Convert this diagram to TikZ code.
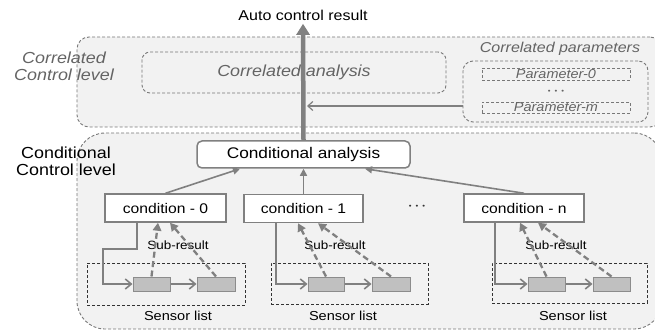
\documentclass[tikz,border=0pt]{standalone}
\usepackage{fontspec}
\setmainfont{Liberation Sans}[FakeStretch=1.12]
\usetikzlibrary{arrows.meta}
\definecolor{lnc}{RGB}{128,128,128}
\definecolor{regfill}{RGB}{242,242,242}
\definecolor{regline}{RGB}{120,120,120}
\definecolor{sbfill}{RGB}{192,192,192}
\definecolor{sbline}{RGB}{140,140,140}
\definecolor{itc}{RGB}{100,100,100}
\newcommand{\mydots}{\fontsize{7}{7}\selectfont\textbullet\hspace{4pt}\textbullet\hspace{4pt}\textbullet}
\begin{document}
\begin{tikzpicture}[x=1pt,y=-1pt,
  region/.style={draw=regline, fill=regfill, line width=0.9pt, dash pattern=on 3pt off 2pt},
  dbox/.style={draw=regline, line width=0.9pt, dash pattern=on 3pt off 2pt, inner sep=0pt},
  itext/.style={text=itc, font=\itshape},
  condbox/.style={draw=lnc, fill=white, line width=1.5pt, inner sep=0pt, font=\fontsize{14}{16}\selectfont, minimum height=28pt},
  listbox/.style={draw=black!80, line width=1pt, dash pattern=on 3pt off 2pt, inner sep=0pt},
  sbox/.style={draw=sbline, fill=sbfill, line width=1pt, inner sep=0pt, minimum height=14pt},
  uparrow/.style={draw=lnc, line width=1.6pt, -{Triangle[length=7pt,width=7pt]}},
  feed/.style={draw=lnc, line width=1.6pt, -{Straight Barb[length=6pt,width=10pt,line width=1.6pt]}},
  subarrow/.style={draw=lnc, line width=2.3pt, dash pattern=on 6pt off 3.5pt, -{Triangle[length=8pt,width=8.5pt]}},
  smalltext/.style={font=\fontsize{12}{14}\selectfont},
]
\useasboundingbox (0,0) rectangle (655,331);

% regions
\node[region, rounded corners=12pt, minimum width=585pt, minimum height=90pt, inner sep=0pt] (corrreg) at (369.5,82) {};
\node[region, rounded corners=28pt, minimum width=585pt, minimum height=196pt, inner sep=0pt] (condreg) at (369.5,231) {};

% level labels
\node[itext, align=center, font=\itshape\fontsize{16}{17}\selectfont] (corrlbl) at (64,66.5) {Correlated\\Control level};
\node[align=center, font=\fontsize{16}{17}\selectfont] (condlbl) at (66,161.5) {Conditional\\Control level};

% correlated level content
\node[dbox, rounded corners=8pt, minimum width=304pt, minimum height=41pt, itext, font=\itshape\fontsize{16}{18}\selectfont] (corran) at (294,72.5) {Correlated analysis};
\node[dbox, rounded corners=10pt, minimum width=185pt, minimum height=61pt] (cp) at (555.5,91.5) {};
\node[itext, font=\itshape\fontsize{14.3}{16}\selectfont] (cplbl) at (560,49) {Correlated parameters};
\node[dbox, minimum width=148pt, minimum height=12pt, itext, font=\itshape\fontsize{12.9}{14}\selectfont] (p0) at (556,74) {Parameter-0};
\node[text=itc] (pdots) at (556,92) {\mydots};
\node[dbox, minimum width=148pt, minimum height=11pt, itext, font=\itshape\fontsize{12.9}{14}\selectfont] (pm) at (556,107.5) {Parameter-m};

% top result
\node[font=\fontsize{14.3}{16}\selectfont] (auto) at (303,15) {Auto control result};

% conditional analysis
\node[draw=lnc, fill=white, line width=1.5pt, rounded corners=5pt, minimum width=213pt, minimum height=27pt, inner sep=0pt, font=\fontsize{15.4}{17}\selectfont] (condan) at (303.5,154.5) {Conditional analysis};

% conditions
\node[condbox, minimum width=121pt] (c0) at (165.5,208) {condition - 0};
\node[condbox, minimum width=119pt] (c1) at (303.5,208.5) {condition - 1};
\node[condbox, minimum width=120pt] (cn) at (524,208) {condition - n};
\node[text=black!80] (cdots) at (417,207) {\mydots};

% sensor lists
\node[listbox, minimum width=158pt, minimum height=42pt] (L0) at (166,284) {};
\node[listbox, minimum width=157pt, minimum height=41pt] (L1) at (349.5,283.5) {};
\node[listbox, minimum width=155pt, minimum height=40pt] (Ln) at (569.5,283) {};
\node[font=\fontsize{13}{15}\selectfont] (L0lbl) at (178,316) {Sensor list};
\node[font=\fontsize{13}{15}\selectfont] (L1lbl) at (343,316) {Sensor list};
\node[font=\fontsize{13}{15}\selectfont] (Lnlbl) at (573,316) {Sensor list};

% sensor boxes
\node[sbox, minimum width=37pt] (s0a) at (151.5,284) {};
\node[sbox, minimum width=38pt] (s0b) at (216,284) {};
\node[sbox, minimum width=36pt] (s1a) at (326,284) {};
\node[sbox, minimum width=38pt] (s1b) at (391,284) {};
\node[sbox, minimum width=37pt] (sna) at (546.5,284) {};
\node[sbox, minimum width=37pt] (snb) at (611.5,284) {};

% sub-result labels
\node[smalltext] (r0) at (178,245) {Sub-result};
\node[smalltext] (r1) at (335,245) {Sub-result};
\node[smalltext] (rn) at (556,245) {Sub-result};

% main thick arrow
\draw[draw=lnc, line width=4.5pt, -{Triangle[length=11pt,width=13pt]}] (condan.north) -- (auto.south);
\coordinate (pj) at (307,106);
\draw[draw=lnc, line width=1.2pt, -{Straight Barb[length=5pt,width=9pt,line width=1.2pt]}] (cp.west |- pj) -- (pj);

% conditions to conditional analysis
\draw[uparrow] (c0.north) -- ([xshift=-63.5pt]condan.south);
\draw[uparrow] (c1.north) -- (condan.south);
\draw[uparrow] (cn.north) -- ([xshift=61.5pt]condan.south);

% feed lines
\draw[feed] ([xshift=-28.5pt]c0.south) -- ++(0,26) -- ++(-34,0) |- (s0a.west);
\draw[feed] (s0a.east) -- (s0b.west);
\draw[feed] ([xshift=-27.5pt]c1.south) |- (s1a.west);
\draw[feed] (s1a.east) -- (s1b.west);
\draw[feed] ([xshift=-29pt]cn.south) |- (sna.west);
\draw[feed] (sna.east) -- (snb.west);

% sub-result arrows
\draw[subarrow] (s0a.north) -- ([xshift=-7.5pt]c0.south);
\draw[subarrow] (s0b.north) -- ([xshift=4.5pt]c0.south);
\draw[subarrow] (s1a.north) -- ([xshift=-5.5pt]c1.south);
\draw[subarrow] (s1b.north) -- ([xshift=14.5pt]c1.south);
\draw[subarrow] (sna.north) -- ([xshift=-4pt]cn.south);
\draw[subarrow] (snb.north) -- ([xshift=14pt]cn.south);
\end{tikzpicture}
\end{document}
